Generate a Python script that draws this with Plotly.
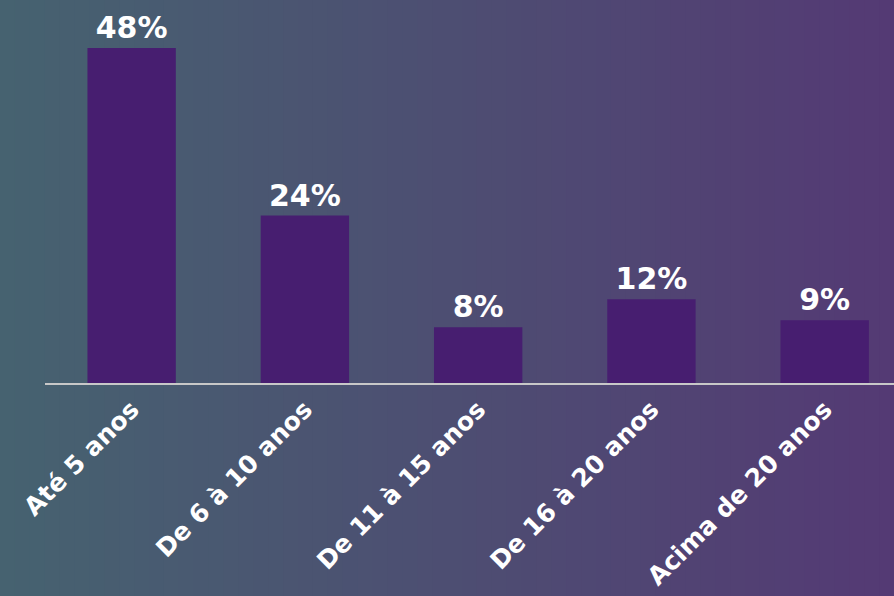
import plotly.graph_objects as go

categories = ["Até 5 anos", "De 6 à 10 anos", "De 11 à 15 anos", "De 16 à 20 anos", "Acima de 20 anos"]
values = [48, 24, 8, 12, 9]
labels = ["48%", "24%", "8%", "12%", "9%"]

W, H = 894, 596
left_rgb = (70, 98, 112)
right_rgb = (84, 58, 116)
N = 60
shapes = []
for i in range(N):
    t = i / (N - 1)
    c = tuple(round(left_rgb[k] + (right_rgb[k] - left_rgb[k]) * t) for k in range(3))
    x0 = -45 / 849 + i * (W / 849) / N
    x1 = -45 / 849 + (i + 1) * (W / 849) / N + 0.002
    shapes.append(dict(type="rect", xref="paper", yref="paper",
                       x0=x0, x1=x1, y0=-213 / 335, y1=1 + 48 / 335,
                       fillcolor="rgb(%d,%d,%d)" % c, line=dict(width=0), layer="below"))

fig = go.Figure(go.Bar(
    x=categories, y=values, text=labels, textposition="outside",
    textfont=dict(family="DejaVu Sans", size=30, color="white"),
    marker=dict(color="#471e70", line=dict(width=0)),
    cliponaxis=False,
))
fig.update_layout(
    width=W, height=H,
    margin=dict(l=45, r=0, t=48, b=213),
    paper_bgcolor="rgb(78,80,114)", plot_bgcolor="rgba(0,0,0,0)",
    bargap=0.49, shapes=shapes, showlegend=False,
    font=dict(family="DejaVu Sans", color="white"),
)
fig.update_xaxes(range=[-0.5, 4.4], showline=True, linecolor="#c8c8c8", linewidth=2,
                 tickangle=-45, tickfont=dict(family="DejaVu Sans", size=25, color="white", weight="bold"),
                 showgrid=False, ticks="")
fig.update_yaxes(range=[0, 48], visible=False, showgrid=False)
fig.update_traces(textfont_weight="bold")
fig.write_html("out.html", config={"displayModeBar": False, "staticPlot": True})

with open("out.html", "r", encoding="utf-8") as f:
    html = f.read()
html = html.replace("<head>", "<head><style>html,body{margin:0;padding:0;overflow:hidden;}</style>", 1)
with open("out.html", "w", encoding="utf-8") as f:
    f.write(html)
